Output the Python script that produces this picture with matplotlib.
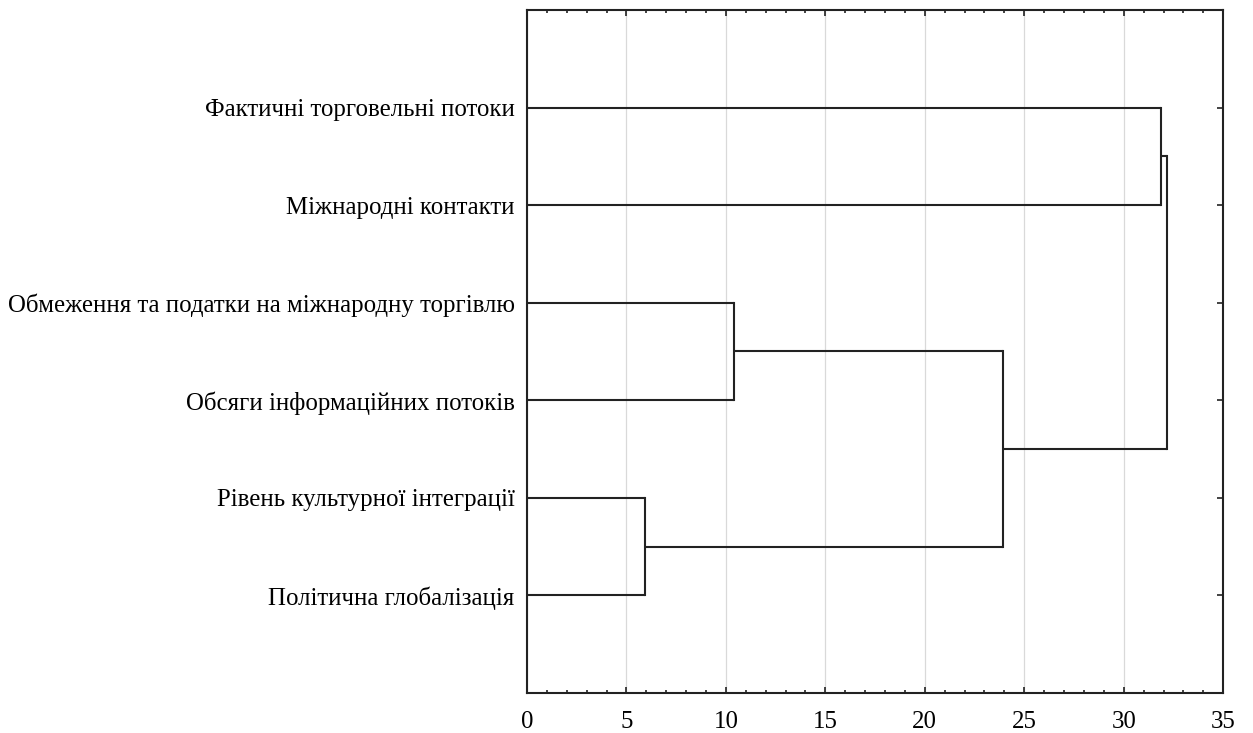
import matplotlib.pyplot as plt
from matplotlib.ticker import MultipleLocator

plt.rcParams["font.family"] = ["Liberation Serif", "DejaVu Serif"]

# Leaves, top to bottom
leaf_names = [
    "Фактичні торговельні потоки",
    "Міжнародні контакти",
    "Обмеження та податки на міжнародну торгівлю",
    "Обсяги інформаційних потоків",
    "Рівень культурної інтеграції",
    "Політична глобалізація",
]

# Agglomeration steps: (child a, child b, linkage distance)
# ids >= len(leaf_names) refer to clusters formed in earlier steps
merge_a = [4, 2, 7, 0, 9]
merge_b = [5, 3, 6, 1, 8]
merge_dist = [5.93, 10.42, 23.92, 31.85, 32.16]

line_color = "#222222"

fig = plt.figure(figsize=(12.53, 7.33), dpi=100)
ax = fig.add_axes([0.4206, 0.0546, 0.5556, 0.9318])

# node -> (y position, height)
nodes = {i: (i + 1, 0.0) for i in range(len(leaf_names))}
for k, (a, b, d) in enumerate(zip(merge_a, merge_b, merge_dist)):
    ya, ha = nodes[a]
    yb, hb = nodes[b]
    ax.plot([ha, d], [ya, ya], color=line_color, lw=1.5, solid_capstyle="butt")
    ax.plot([hb, d], [yb, yb], color=line_color, lw=1.5, solid_capstyle="butt")
    ax.plot([d, d], [ya, yb], color=line_color, lw=1.5, solid_capstyle="projecting")
    nodes[len(leaf_names) + k] = ((ya + yb) / 2, d)

ax.set_xlim(0, 35)
ax.set_ylim(len(leaf_names) + 1, 0)

ax.xaxis.set_major_locator(MultipleLocator(5))
ax.xaxis.set_minor_locator(MultipleLocator(1))
ax.grid(axis="x", which="major", color="#d9d9d9", lw=0.9, zorder=0)
ax.set_axisbelow(True)

ax.set_yticks(range(1, len(leaf_names) + 1))
ax.set_yticklabels(leaf_names, fontsize=17.9)

ax.tick_params(axis="x", which="both", direction="in", top=True, bottom=True,
               labelsize=17.9, pad=13, color=line_color)
ax.tick_params(axis="x", which="major", length=4, width=1.2)
ax.tick_params(axis="x", which="minor", length=2, width=1.2)
ax.tick_params(axis="y", direction="in", left=True, right=True, length=4,
               width=1.2, pad=9, color=line_color)

for s in ax.spines.values():
    s.set_linewidth(1.5)
    s.set_color(line_color)

fig.savefig("out.png", dpi=100)
